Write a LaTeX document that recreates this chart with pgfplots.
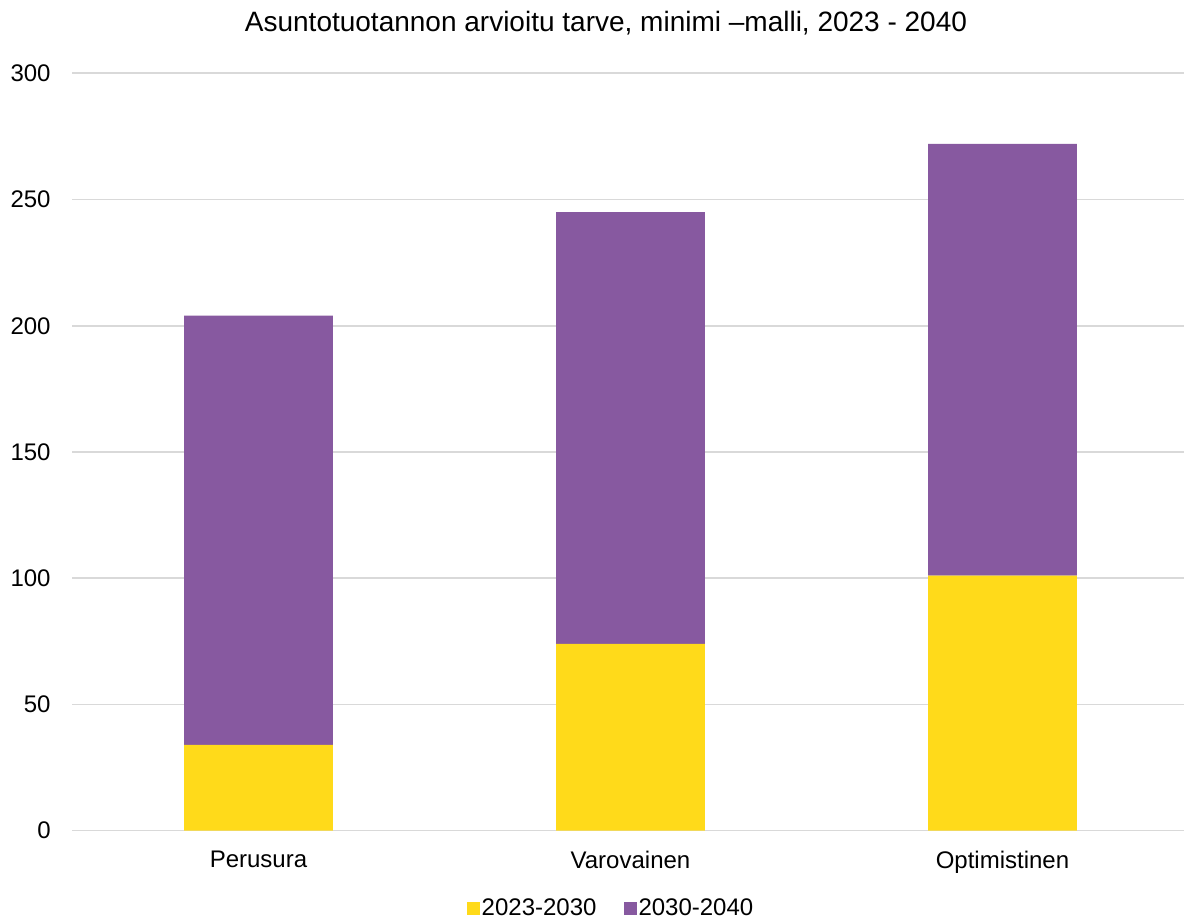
\documentclass[border=0pt]{standalone}
\usepackage{fontspec}
\setmainfont{Liberation Sans}
\usepackage{pgfplots}
\pgfplotsset{compat=1.18}
\definecolor{cyellow}{RGB}{255,218,26}
\definecolor{cpurple}{RGB}{135,89,160}
\definecolor{cgrid}{RGB}{217,217,217}
\begin{document}
\fontsize{12}{14}\selectfont
\begin{tikzpicture}
\useasboundingbox (-36.25pt,-44.15pt) rectangle (555.75pt,415.35pt);
\begin{axis}[
  at={(0pt,0pt)}, anchor=south west,
  scale only axis,
  width=555.75pt, height=378.7pt,
  ybar stacked,
  bar width=0.4,
  xmin=-0.5, xmax=2.488,
  ymin=0, ymax=300,
  ytick={0,50,...,300},
  xtick={0,1,2},
  xticklabels={Perusura,Varovainen,Optimistinen},
  major tick length=0pt,
  axis line style={draw=none},
  ymajorgrids,
  grid style={cgrid, line width=0.8pt},
  /pgf/number format/assume math mode=true,
  tick label style={font=\fontsize{12}{14}\selectfont},
  yticklabel style={anchor=east, inner sep=0pt, xshift=-10.75pt},
  xticklabel style={anchor=north, inner sep=0pt, yshift=-10pt},
  legend columns=2,
  legend style={draw=none, fill=none, at={(0.4845,-0.1035)}, anchor=center,
    font=\fontsize{12}{14}\selectfont,
    /tikz/every even column/.append style={column sep=12.5pt},
    nodes={inner sep=1pt}},
  legend image code/.code={\fill[#1] (0pt,-3.2pt) rectangle (6.5pt,3.3pt);},
]
\addplot[fill=cyellow, draw=none] coordinates {(0,34) (1,74) (2,101)};
\addplot[fill=cpurple, draw=none] coordinates {(0,170) (1,171) (2,171)};
\legend{2023-2030,2030-2040}
\end{axis}
\node[anchor=base, font=\fontsize{14}{16}\selectfont] at (266.75pt,399.35pt) {Asuntotuotannon arvioitu tarve, minimi –malli, 2023 - 2040};
\end{tikzpicture}
\end{document}
